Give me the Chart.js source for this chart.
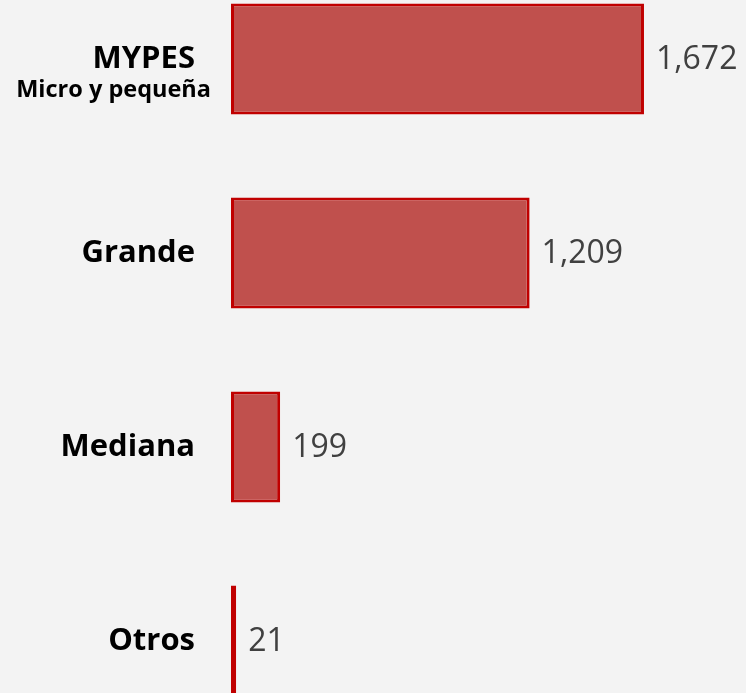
<!DOCTYPE html>
<html>
<head>
<meta charset="utf-8">
<script src="https://cdn.jsdelivr.net/npm/chart.js@4.4.1/dist/chart.umd.min.js"></script>
<style>
  html, body { margin: 0; padding: 0; background: #f3f3f3; }
  #wrap { position: relative; width: 746px; height: 693px; overflow: hidden; background: #f3f3f3; }
  #c { position: absolute; left: 0; top: -38px; }
</style>
</head>
<body>
<div id="wrap"><canvas id="c" width="746" height="776"></canvas></div>
<script>
const categories = ["MYPES", "Grande", "Mediana", "Otros"];
const subLabels = ["Micro y pequeña", "", "", ""];
const values = [1672, 1209, 199, 21];

const labelPlugin = {
  id: 'labels',
  afterDatasetsDraw(chart) {
    const ctx = chart.ctx;
    const area = chart.chartArea;
    const meta = chart.getDatasetMeta(0);
    ctx.save();
    meta.data.forEach((bar, i) => {
      // value label
      ctx.font = '32px "Open Sans", sans-serif';
      ctx.fillStyle = '#404040';
      ctx.textAlign = 'left';
      ctx.textBaseline = 'middle';
      ctx.fillText(values[i].toLocaleString('en-US'), bar.x + 12, bar.y + 1);
      // category label
      ctx.fillStyle = '#000000';
      ctx.textAlign = 'right';
      ctx.font = 'bold 31px "Open Sans", sans-serif';
      ctx.fillText(categories[i], area.left - 36, bar.y);
      if (subLabels[i]) {
        ctx.font = 'bold 23.5px "Open Sans", sans-serif';
        ctx.fillText(subLabels[i], area.left - 20, bar.y + 31);
      }
    });
    ctx.restore();
  }
};

new Chart(document.getElementById('c'), {
  type: 'bar',
  data: {
    labels: categories,
    datasets: [{
      data: values,
      backgroundColor: '#c0504d',
      borderColor: '#c00000',
      borderWidth: 3,
      borderSkipped: false,
      categoryPercentage: 1.0,
      barPercentage: 0.572
    }]
  },
  options: {
    indexAxis: 'y',
    responsive: false,
    animation: false,
    layout: { padding: { left: 231, right: 21, top: 0, bottom: 0 } },
    plugins: { legend: { display: false }, tooltip: { enabled: false } },
    scales: {
      x: { display: false, min: 0, max: 2000, grid: { display: false } },
      y: { display: false, grid: { display: false } }
    }
  },
  plugins: [labelPlugin]
});
</script>
</body>
</html>
